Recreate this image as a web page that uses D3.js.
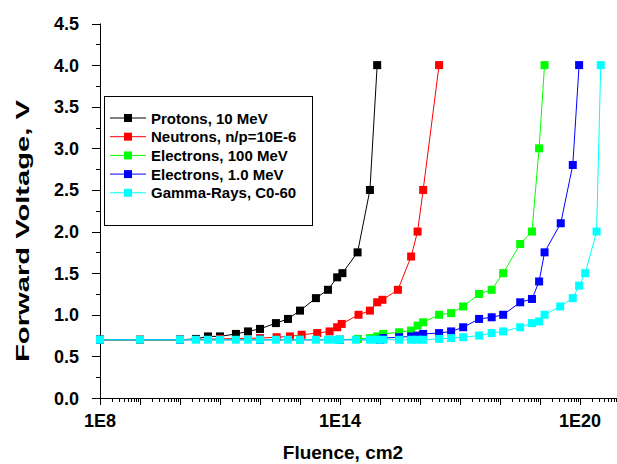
<!DOCTYPE html>
<html>
<head>
<meta charset="utf-8">
<script src="https://cdnjs.cloudflare.com/ajax/libs/d3/7.8.5/d3.min.js"></script>
<style>
  body { margin: 0; background: #fff; }
  text { font-family: Arial, "Liberation Sans", sans-serif; font-weight: bold; }
</style>
</head>
<body>
<svg id="chart" width="617" height="464"></svg>
<script>
// series names and colours
var seriesNames = ["Protons, 10 MeV", "Neutrons, n/p=10E-6", "Electrons, 100 MeV", "Electrons, 1.0 MeV", "Gamma-Rays, C0-60"];
var seriesColors = ["#000000", "#ff0000", "#00ff00", "#0000ff", "#00ffff"];

// fluence (cm2) and forward voltage (V)
var protonsF = [1e8, 1e9, 1e10, 2.5e10, 5e10, 1e11, 2.5e11, 5e11, 1e12, 2.5e12, 5e12, 1e13, 2.5e13, 5e13, 8.5e13, 1.15e14, 2.75e14, 5.6e14, 8.5e14];
var protonsV = [0.70, 0.70, 0.70, 0.71, 0.74, 0.74, 0.77, 0.80, 0.83, 0.90, 0.95, 1.05, 1.20, 1.30, 1.45, 1.50, 1.75, 2.50, 4.00];

var neutronsF = [1e8, 1e9, 1e10, 1e11, 1e12, 2.6e12, 5.6e12, 1.1e13, 2.7e13, 5.5e13, 8.5e13, 1.1e14, 2.9e14, 5.6e14, 8.5e14, 1.15e15, 2.8e15, 6e15, 8.7e15, 1.2e16, 3e16];
var neutronsV = [0.70, 0.70, 0.70, 0.71, 0.72, 0.73, 0.74, 0.76, 0.78, 0.80, 0.85, 0.89, 1.00, 1.05, 1.15, 1.18, 1.30, 1.70, 2.00, 2.50, 4.00];

var elec100F = [1e8, 1e10, 1e12, 1e13, 1e14, 2.8e14, 5.6e14, 8.5e14, 1.2e15, 3e15, 6e15, 8.7e15, 1.2e16, 3e16, 6e16, 1.2e17, 3e17, 6.2e17, 1.2e18, 3.2e18, 6.3e18, 9.5e18, 1.3e19];
var elec100V = [0.70, 0.70, 0.70, 0.70, 0.70, 0.71, 0.72, 0.74, 0.77, 0.79, 0.81, 0.87, 0.91, 1.00, 1.02, 1.10, 1.25, 1.30, 1.50, 1.85, 2.00, 3.00, 4.00];

var elec1F = [1e8, 1e10, 1e12, 1e14, 1e15, 1.2e15, 3e15, 6e15, 8.7e15, 1.2e16, 3e16, 6e16, 1.2e17, 3e17, 6.2e17, 1.2e18, 3.2e18, 6.3e18, 9.5e18, 1.3e19, 3.3e19, 6.6e19, 9.5e19];
var elec1V = [0.70, 0.70, 0.70, 0.70, 0.70, 0.72, 0.73, 0.74, 0.75, 0.77, 0.78, 0.80, 0.85, 0.95, 0.97, 1.00, 1.15, 1.19, 1.40, 1.75, 2.10, 2.80, 4.00];

var gammaF = [1e8, 1e9, 1e10, 2.5e10, 5e10, 1e11, 2.5e11, 5e11, 1e12, 2.5e12, 5e12, 1e13, 2.5e13, 5e13, 8e13, 1e14, 2.5e14, 5.6e14, 8.5e14, 1.2e15, 3e15, 6e15, 8.7e15, 1.2e16, 3e16, 6e16, 1.2e17, 3e17, 6.2e17, 1.2e18, 3.2e18, 6.3e18, 9.5e18, 1.3e19, 3.2e19, 6.6e19, 9.5e19, 1.35e20, 2.6e20, 3.3e20];
var gammaV = [0.70, 0.70, 0.70, 0.70, 0.70, 0.70, 0.70, 0.70, 0.70, 0.70, 0.70, 0.70, 0.70, 0.70, 0.70, 0.70, 0.70, 0.70, 0.70, 0.70, 0.70, 0.70, 0.70, 0.70, 0.71, 0.72, 0.73, 0.75, 0.78, 0.80, 0.85, 0.90, 0.92, 1.00, 1.10, 1.20, 1.35, 1.50, 2.00, 4.00];

// axis ticks
var xTickLabels = [1e8, 1e14, 1e20];
var yTicks = [0, 0.5, 1.0, 1.5, 2.0, 2.5, 3.0, 3.5, 4.0, 4.5];

var allF = [protonsF, neutronsF, elec100F, elec1F, gammaF];
var allV = [protonsV, neutronsV, elec100V, elec1V, gammaV];

var svg = d3.select('#chart');

var x = d3.scaleLog().domain([1e8, 1e21]).range([100, 620]);
var y = d3.scaleLinear().domain([0, 4.5]).range([398, 23.5]);

// y axis
var yAxis = svg.append('g').attr('transform', 'translate(100,0)');
yAxis.append('line')
    .attr('x1', 0.5).attr('x2', 0.5)
    .attr('y1', y(4.5)).attr('y2', y(0) + 7)
    .attr('stroke', '#000').attr('stroke-width', 1);
yAxis.selectAll()
    .data(d3.range(0, 4.51, 0.25))
    .enter().append('line')
    .attr('x1', (d, i) => i % 2 == 0 ? -8 : -4)
    .attr('x2', 0.5)
    .attr('y1', d => Math.round(y(d)) + 0.5)
    .attr('y2', d => Math.round(y(d)) + 0.5)
    .attr('stroke', '#000');
yAxis.selectAll()
    .data(yTicks)
    .enter().append('text')
    .attr('x', -21)
    .attr('y', d => y(d) + 6.5)
    .attr('text-anchor', 'end')
    .attr('font-size', 18)
    .text(d => d.toFixed(1));

// x axis
var xAxis = svg.append('g').attr('transform', 'translate(0,398)');
xAxis.append('line')
    .attr('x1', 100).attr('x2', 617)
    .attr('y1', 0.5).attr('y2', 0.5)
    .attr('stroke', '#000');
var minor = [];
for (var e = 8; e <= 20; e++) {
    for (var m = 1; m <= 9; m++) {
        minor.push({ v: m * Math.pow(10, e), major: m == 1 });
    }
}
minor.push({ v: 1e21, major: true });
xAxis.selectAll()
    .data(minor.filter(d => x(d.v) <= 617))
    .enter().append('line')
    .attr('x1', d => Math.round(x(d.v)) + 0.5)
    .attr('x2', d => Math.round(x(d.v)) + 0.5)
    .attr('y1', 0)
    .attr('y2', d => d.major ? 7 : 4)
    .attr('stroke', '#000');
xAxis.selectAll()
    .data(xTickLabels)
    .enter().append('text')
    .attr('x', d => x(d))
    .attr('y', 29)
    .attr('text-anchor', 'middle')
    .attr('font-size', 18)
    .text(d => '1E' + Math.round(Math.log10(d)));

// axis titles
svg.append('text')
    .attr('x', 343)
    .attr('y', 459)
    .attr('text-anchor', 'middle')
    .attr('font-size', 19)
    .text('Fluence, cm2');
svg.append('text')
    .attr('transform', 'translate(29,231) rotate(-90)')
    .attr('text-anchor', 'middle')
    .attr('font-size', 19)
    .attr('textLength', 262)
    .attr('lengthAdjust', 'spacingAndGlyphs')
    .text('Forward Voltage, V');

// series: line then markers, cyan last so it sits on top
var line = d3.line()
    .x(d => x(d[0]))
    .y(d => y(d[1]));

allF.forEach(function (fs, k) {
    var pts = fs.map((f, i) => [f, allV[k][i]]);
    svg.append('path')
        .datum(pts)
        .attr('d', line)
        .attr('fill', 'none')
        .attr('stroke', seriesColors[k])
        .attr('stroke-width', 1);
    svg.selectAll()
        .data(pts)
        .enter().append('rect')
        .attr('x', d => x(d[0]) - 4)
        .attr('y', d => y(d[1]) - 4)
        .attr('width', 8)
        .attr('height', 8)
        .attr('fill', seriesColors[k]);
});

// legend
var legend = svg.append('g');
legend.append('rect')
    .attr('x', 104.5).attr('y', 96.5)
    .attr('width', 208).attr('height', 129)
    .attr('fill', '#fff')
    .attr('stroke', '#000');
var items = legend.selectAll()
    .data(seriesNames)
    .enter().append('g')
    .attr('transform', (d, i) => 'translate(0,' + (118 + i * 18.7) + ')');
items.append('line')
    .attr('x1', 110).attr('x2', 146)
    .attr('y1', 0).attr('y2', 0)
    .attr('stroke', (d, i) => seriesColors[i]);
items.append('rect')
    .attr('x', 124).attr('y', -4)
    .attr('width', 8).attr('height', 8)
    .attr('fill', (d, i) => seriesColors[i]);
items.append('text')
    .attr('x', 151)
    .attr('y', 5.5)
    .attr('font-size', 15)
    .text(d => d);
</script>
</body>
</html>
